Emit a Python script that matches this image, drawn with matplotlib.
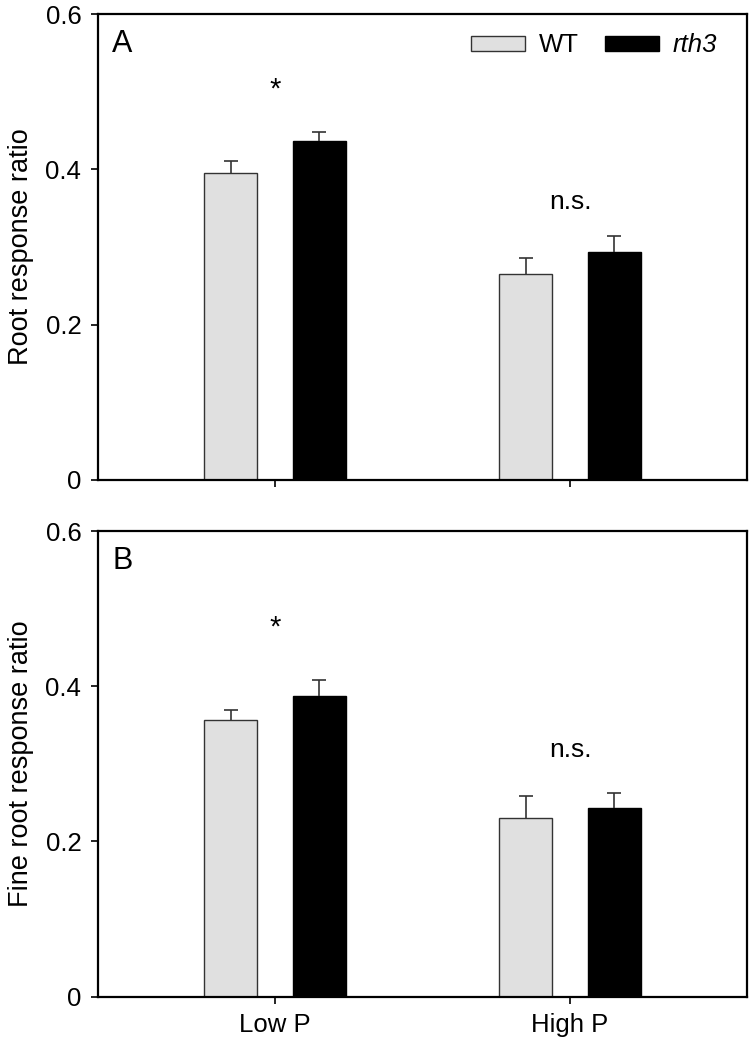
import numpy as np
import matplotlib.pyplot as plt
from matplotlib.patches import Patch

plt.rcParams['font.family'] = ['Liberation Sans', 'DejaVu Sans']

# =============================================================================
# data
# =============================================================================
groups = ["Low P", "High P"]

root_wt = [0.395, 0.265]
root_wt_se = [0.016, 0.021]
root_rth3 = [0.436, 0.293]
root_rth3_se = [0.012, 0.021]

fine_wt = [0.357, 0.230]
fine_wt_se = [0.012, 0.028]
fine_rth3 = [0.387, 0.243]
fine_rth3_se = [0.021, 0.019]

root_sig = ["*", "n.s."]
root_sig_y = [0.503, 0.358]
fine_sig = ["*", "n.s."]
fine_sig_y = [0.476, 0.318]

wt_color = "#e0e0e0"
rth3_color = "black"

fig = plt.figure(figsize=(7.52, 10.4), dpi=100)
ax1 = fig.add_axes([0.1303, 0.5385, 0.8631, 0.448])
ax2 = fig.add_axes([0.1303, 0.0416, 0.8631, 0.4478])

x = np.arange(len(groups))
off = 0.15
w = 0.18


def up_errorbar(ax, xs, ys, se):
    # only the upper half of the error bar, with a cap on top
    eb = ax.errorbar(xs, ys, yerr=[np.zeros(len(ys)), se], fmt="none",
                     ecolor="#333333", elinewidth=1.2, capsize=5,
                     capthick=1.2)
    eb[1][0].set_visible(False)


def draw_panel(ax, wt, wt_se, rth, rth_se, sig, sig_y, letter, ylabel):
    ax.bar(x - off, wt, w, color=wt_color, edgecolor="#333333", linewidth=1)
    ax.bar(x + off, rth, w, color=rth3_color, edgecolor="black", linewidth=1)
    up_errorbar(ax, x - off, wt, wt_se)
    up_errorbar(ax, x + off, rth, rth_se)
    for i in range(len(groups)):
        if sig[i] == "*":
            ax.text(x[i], sig_y[i], sig[i], ha="center", va="center",
                    fontsize=21)
        else:
            ax.text(x[i], sig_y[i], sig[i], ha="center", va="center",
                    fontsize=19)
    ax.set_xlim(-0.6, 1.6)
    ax.set_ylim(0, 0.6)
    ax.set_yticks([0, 0.2, 0.4, 0.6])
    ax.set_yticklabels(["0", "0.2", "0.4", "0.6"])
    ax.set_xticks(x)
    ax.tick_params(axis="both", direction="out", length=5, width=1.2,
                   labelsize=18.5, pad=7)
    for s in ax.spines.values():
        s.set_linewidth(1.6)
    ax.set_ylabel(ylabel, fontsize=19.5, labelpad=8)
    ax.text(0.022, 0.968, letter, transform=ax.transAxes, ha="left", va="top",
            fontsize=22)


draw_panel(ax1, root_wt, root_wt_se, root_rth3, root_rth3_se,
           root_sig, root_sig_y, "A", "Root response ratio")
ax1.set_xticklabels(["", ""])

draw_panel(ax2, fine_wt, fine_wt_se, fine_rth3, fine_rth3_se,
           fine_sig, fine_sig_y, "B", "Fine root response ratio")
ax2.set_xticklabels(groups)

handles = [Patch(facecolor=wt_color, edgecolor="#333333", linewidth=1),
           Patch(facecolor=rth3_color, edgecolor="black")]
leg = ax1.legend(handles, ["WT", "rth3"], ncol=2, frameon=False,
                 loc="upper right", bbox_to_anchor=(0.99, 1.008),
                 fontsize=18.5, handlelength=2.1, handleheight=0.55,
                 handletextpad=0.55, columnspacing=1.0)
leg.get_texts()[1].set_fontstyle("italic")

fig.savefig("out.png", dpi=100)
